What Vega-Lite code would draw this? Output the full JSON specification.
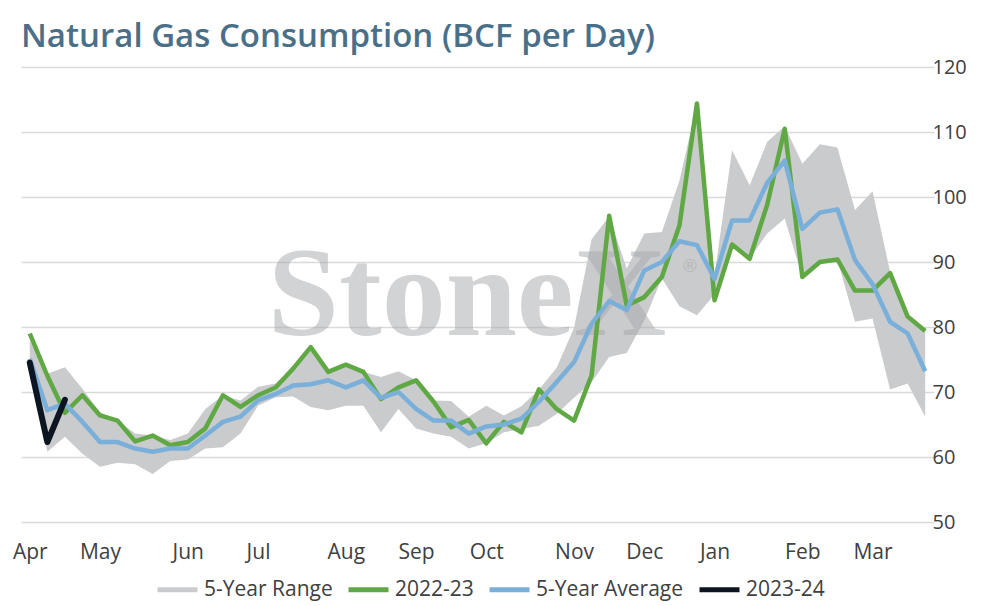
{
  "$schema": "https://vega.github.io/schema/vega-lite/v6.json",
  "width": 913,
  "height": 455,
  "autosize": {"type": "none"},
  "padding": {"left": 21, "top": 67, "right": 60, "bottom": 84},
  "background": "white",
  "title": {
    "text": "Natural Gas Consumption (BCF per Day)",
    "anchor": "start",
    "frame": "group",
    "font": "Open Sans",
    "fontSize": 33,
    "fontWeight": 600,
    "color": "#4a7089",
    "offset": 3
  },
  "data": {
    "values": [
      {"week": 0, "lo": 74.5, "hi": 78.0, "g": 79.0, "b": 75.1, "k": 74.5},
      {"week": 1, "lo": 60.8, "hi": 72.8, "g": 72.5, "b": 67.2, "k": 62.3},
      {"week": 2, "lo": 63.1, "hi": 73.8, "g": 66.8, "b": 68.2, "k": 68.8},
      {"week": 3, "lo": 60.5, "hi": 70.5, "g": 69.5, "b": 65.4},
      {"week": 4, "lo": 58.5, "hi": 66.9, "g": 66.4, "b": 62.3},
      {"week": 5, "lo": 59.1, "hi": 65.6, "g": 65.6, "b": 62.3},
      {"week": 6, "lo": 58.9, "hi": 63.6, "g": 62.4, "b": 61.3},
      {"week": 7, "lo": 57.4, "hi": 63.3, "g": 63.3, "b": 60.8},
      {"week": 8, "lo": 59.4, "hi": 62.6, "g": 61.8, "b": 61.3},
      {"week": 9, "lo": 59.6, "hi": 63.6, "g": 62.3, "b": 61.3},
      {"week": 10, "lo": 61.3, "hi": 67.4, "g": 64.4, "b": 63.3},
      {"week": 11, "lo": 61.5, "hi": 69.5, "g": 69.5, "b": 65.4},
      {"week": 12, "lo": 63.6, "hi": 68.7, "g": 67.7, "b": 66.2},
      {"week": 13, "lo": 67.9, "hi": 70.8, "g": 69.5, "b": 68.7},
      {"week": 14, "lo": 69.2, "hi": 71.3, "g": 70.7, "b": 69.7},
      {"week": 15, "lo": 69.3, "hi": 73.8, "g": 73.6, "b": 71.0},
      {"week": 16, "lo": 67.7, "hi": 76.9, "g": 76.9, "b": 71.2},
      {"week": 17, "lo": 67.2, "hi": 73.1, "g": 73.1, "b": 71.8},
      {"week": 18, "lo": 67.9, "hi": 74.1, "g": 74.2, "b": 70.7},
      {"week": 19, "lo": 67.9, "hi": 73.1, "g": 73.1, "b": 71.8},
      {"week": 20, "lo": 63.8, "hi": 72.3, "g": 68.9, "b": 69.1},
      {"week": 21, "lo": 67.4, "hi": 73.2, "g": 70.7, "b": 70.0},
      {"week": 22, "lo": 64.4, "hi": 71.8, "g": 71.8, "b": 67.4},
      {"week": 23, "lo": 63.6, "hi": 68.7, "g": 68.5, "b": 65.6},
      {"week": 24, "lo": 63.1, "hi": 68.6, "g": 64.6, "b": 65.6},
      {"week": 25, "lo": 61.3, "hi": 66.2, "g": 65.7, "b": 63.6},
      {"week": 26, "lo": 62.1, "hi": 67.9, "g": 62.1, "b": 64.7},
      {"week": 27, "lo": 63.8, "hi": 66.4, "g": 65.4, "b": 65.0},
      {"week": 28, "lo": 64.3, "hi": 67.8, "g": 63.8, "b": 65.9},
      {"week": 29, "lo": 64.8, "hi": 70.4, "g": 70.4, "b": 68.5},
      {"week": 30, "lo": 66.6, "hi": 73.7, "g": 67.4, "b": 71.5},
      {"week": 31, "lo": 69.1, "hi": 79.9, "g": 65.6, "b": 74.6},
      {"week": 32, "lo": 71.5, "hi": 93.5, "g": 72.6, "b": 80.5},
      {"week": 33, "lo": 75.4, "hi": 97.0, "g": 97.1, "b": 84.0},
      {"week": 34, "lo": 76.0, "hi": 89.0, "g": 83.3, "b": 82.6},
      {"week": 35, "lo": 81.0, "hi": 94.4, "g": 84.6, "b": 88.7},
      {"week": 36, "lo": 87.5, "hi": 94.6, "g": 87.7, "b": 90.0},
      {"week": 37, "lo": 83.2, "hi": 102.5, "g": 95.6, "b": 93.2},
      {"week": 38, "lo": 81.8, "hi": 114.4, "g": 114.4, "b": 92.6},
      {"week": 39, "lo": 85.0, "hi": 88.0, "g": 84.1, "b": 87.4},
      {"week": 40, "lo": 92.6, "hi": 107.2, "g": 92.7, "b": 96.4},
      {"week": 41, "lo": 90.5, "hi": 101.8, "g": 90.5, "b": 96.4},
      {"week": 42, "lo": 94.4, "hi": 108.5, "g": 98.8, "b": 102.2},
      {"week": 43, "lo": 96.7, "hi": 110.9, "g": 110.5, "b": 105.6},
      {"week": 44, "lo": 87.7, "hi": 105.1, "g": 87.7, "b": 95.1},
      {"week": 45, "lo": 89.7, "hi": 108.1, "g": 90.0, "b": 97.6},
      {"week": 46, "lo": 90.3, "hi": 107.6, "g": 90.4, "b": 98.1},
      {"week": 47, "lo": 80.8, "hi": 98.0, "g": 85.6, "b": 90.3},
      {"week": 48, "lo": 81.3, "hi": 100.9, "g": 85.6, "b": 86.6},
      {"week": 49, "lo": 70.4, "hi": 88.5, "g": 88.3, "b": 80.8},
      {"week": 50, "lo": 71.3, "hi": 81.8, "g": 81.6, "b": 79.0},
      {"week": 51, "lo": 66.2, "hi": 79.5, "g": 79.4, "b": 73.2}
    ]
  },
  "encoding": {
    "x": {
      "field": "week",
      "type": "quantitative",
      "scale": {"domain": [-0.5, 51.5], "nice": false, "zero": false},
      "axis": {
        "title": null,
        "grid": false,
        "ticks": false,
        "domain": false,
        "labelFlush": false,
        "values": [0, 4, 9, 13, 18, 22, 26, 31, 35, 39, 44, 48],
        "labelExpr": "['Apr','May','Jun','Jul','Aug','Sep','Oct','Nov','Dec','Jan','Feb','Mar'][indexof([0,4,9,13,18,22,26,31,35,39,44,48], datum.value)]",
        "labelFont": "Open Sans",
        "labelFontSize": 21,
        "labelColor": "#404040",
        "labelPadding": 19
      }
    }
  },
  "layer": [
    {
      "mark": {"type": "area", "opacity": 1},
      "encoding": {
        "y": {
          "field": "lo",
          "type": "quantitative",
          "title": null,
          "scale": {"domain": [50, 120], "nice": false, "zero": false},
          "axis": {
            "orient": "right",
            "values": [50, 60, 70, 80, 90, 100, 110, 120],
            "grid": true,
            "gridColor": "#d9d9d9",
            "gridWidth": 1.5,
            "ticks": false,
            "domain": false,
            "labelFont": "Open Sans",
            "labelFontSize": 20,
            "labelColor": "#404040",
            "labelPadding": -2
          }
        },
        "y2": {"field": "hi"},
        "color": {
          "datum": "5-Year Range",
          "type": "nominal",
          "scale": {
            "domain": ["5-Year Range", "2022-23", "5-Year Average", "2023-24"],
            "range": ["#c9cbcd", "#60a844", "#7aafd9", "#0c1521"]
          },
          "legend": {
            "orient": "none",
            "legendX": 134,
            "legendY": 500,
            "direction": "horizontal",
            "title": null,
            "padding": 0,
            "labelFont": "Open Sans",
            "labelFontSize": 21,
            "labelColor": "#404040",
            "labelOffset": 4,
            "columnPadding": 5,
            "symbolType": "stroke",
            "symbolSize": 1600,
            "symbolStrokeWidth": 5,
            "encode": {
              "symbols": {
                "update": {
                  "shape": {"signal": "datum.value === '5-Year Range' ? 'M-1,-0.29H1V0.29H-1Z' : 'stroke'"},
                  "fill": {"signal": "datum.value === '5-Year Range' ? '#c9cbcd' : 'transparent'"},
                  "stroke": {"signal": "scale('color', datum.value)"},
                  "strokeWidth": {"signal": "datum.value === '5-Year Range' ? 0 : 5"},
                  "strokeCap": {"value": "round"},
                  "opacity": {"value": 1}
                }
              }
            }
          }
        }
      }
    },
    {
      "transform": [{"filter": "datum.week === 0"}],
      "mark": {
        "type": "text",
        "text": "StoneX",
        "font": "Liberation Serif",
        "fontWeight": "bold",
        "fontSize": 128,
        "color": "#a6a8ac",
        "opacity": 0.5,
        "align": "center",
        "baseline": "alphabetic"
      },
      "encoding": {
        "x": {"datum": 24.9, "type": "quantitative"},
        "y": {"datum": 78.8, "type": "quantitative"}
      }
    },
    {
      "transform": [{"filter": "datum.week === 0"}],
      "mark": {
        "type": "text",
        "text": "®",
        "font": "DejaVu Sans",
        "fontSize": 18,
        "color": "#a6a8ac",
        "opacity": 0.5,
        "align": "center",
        "baseline": "middle"
      },
      "encoding": {
        "x": {"datum": 37.6, "type": "quantitative"},
        "y": {"datum": 89.2, "type": "quantitative"}
      }
    },
    {
      "mark": {"type": "line", "strokeWidth": 4.5, "strokeJoin": "round"},
      "encoding": {
        "y": {"field": "g", "type": "quantitative", "title": null},
        "color": {"datum": "2022-23", "type": "nominal"}
      }
    },
    {
      "mark": {"type": "line", "strokeWidth": 4.5, "strokeJoin": "round"},
      "encoding": {
        "y": {"field": "b", "type": "quantitative", "title": null},
        "color": {"datum": "5-Year Average", "type": "nominal"}
      }
    },
    {
      "mark": {"type": "line", "strokeWidth": 6, "strokeJoin": "round", "strokeCap": "round"},
      "encoding": {
        "y": {"field": "k", "type": "quantitative", "title": null},
        "color": {"datum": "2023-24", "type": "nominal"}
      }
    }
  ],
  "config": {
    "view": {"stroke": null}
  }
}
